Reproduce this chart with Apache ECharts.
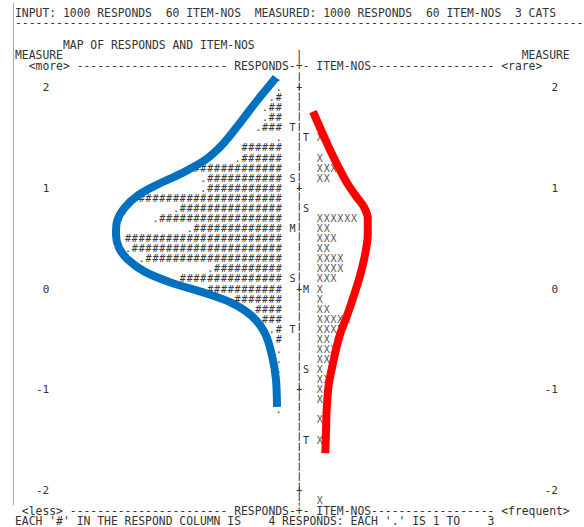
<!DOCTYPE html>
<html>
<head>
<meta charset="utf-8">
<script src="https://cdn.jsdelivr.net/npm/echarts@6/dist/echarts.min.js"></script>
<style>
  html, body { margin: 0; padding: 0; background: #fff; }
  #main { width: 584px; height: 527px; }
</style>
</head>
<body>
<div id="main"></div>
<script>
// rows of the RESPONDS column (measure of row, text of row)
var respondMeasure = [2.1, 2.0, 1.9, 1.8, 1.7, 1.6, 1.5, 1.4, 1.3, 1.2, 1.1, 1.0, 0.9, 0.8, 0.7, 0.6,
  0.5, 0.4, 0.3, 0.2, 0.1, 0.0, -0.1, -0.2, -0.3, -0.4, -0.5, -0.6, -0.7, -0.8, -1.2];
var respondText = ['.', '.', '.#', '.##', '.##', '.###', '.', '######', '.######', '#############',
  '.###########', '.###########', '#####################', '.###############', '.##################',
  '.#############', '#######################', '.######################', '.####################',
  '.##########', '###############', '###########', '#######', '####', '###', '.#', '#', '.', '.', '.', '.'];
var respondMarkMeasure = [1.6, 1.1, 0.6, 0.1, -0.4];
var respondMarkText = ['T', 'S', 'M', 'S', 'T'];

// rows of the ITEM-NOS column
var itemMeasure = [1.5, 1.3, 1.2, 1.1, 0.7, 0.6, 0.5, 0.4, 0.3, 0.2, 0.1, 0.0, -0.1, -0.2, -0.3,
  -0.4, -0.5, -0.6, -0.7, -0.8, -0.9, -1.0, -1.1, -1.3, -1.5, -2.1];
var itemText = ['X', 'X', 'XXX', 'XX', 'XXXXXX', 'XX', 'XXX', 'XX', 'XXXX', 'XXXX', 'XXX', 'X', 'X',
  'XX', 'XXXXX', 'XXXX', 'XX', 'XXX', 'XXX', 'X', 'XX', 'X', 'X', 'X', 'X', 'X'];
var itemMarkMeasure = [1.5, 0.8, 0.0, -0.8, -1.5];
var itemMarkText = ['T', 'S', 'M', 'S', 'T'];

var measureTicks = [2, 1, 0, -1, -2];
var plusText = ['+', '+', '+', '+', '+'];

// hand drawn curves, [text column, measure]
var respondCurve = [[38.1, 2.10], [36.06, 1.93], [34.31, 1.78], [32.41, 1.61], [30.22, 1.43],
  [27.74, 1.28], [24.38, 1.15], [20.88, 1.04], [17.96, 0.93], [15.91, 0.80], [14.89, 0.67],
  [14.74, 0.54], [15.18, 0.41], [16.5, 0.29], [18.98, 0.17], [22.92, 0.06], [27.74, -0.04],
  [31.68, -0.14], [34.6, -0.27], [36.5, -0.44], [37.52, -0.66], [38.1, -0.90], [38.25, -1.17]];
var itemCurve = [[43.5, 1.76], [44.8, 1.56], [46.0, 1.38], [47.3, 1.20], [48.5, 1.05], [49.8, 0.92],
  [50.9, 0.82], [51.5, 0.70], [51.5, 0.54], [51.1, 0.34], [50.4, 0.14], [49.5, -0.06], [48.5, -0.26],
  [47.4, -0.46], [46.6, -0.68], [45.8, -0.95], [45.5, -1.20], [45.4, -1.42], [45.3, -1.63]];

var MONO = '"DejaVu Sans Mono", monospace';
var FONT = '11.38px ' + MONO;   // header lines
var CELL_FONT = '10px ' + MONO; // map cells
var INK = '#333';
var CW = 6.85; // width of one character column

// one row string per data item, each character put in its own column cell
function textSeries(name, col, measures, texts, align, color) {
  return {
    name: name,
    type: 'custom',
    z: 3,
    silent: true,
    data: measures.map(function (m) { return [col, m]; }),
    renderItem: function (params, api) {
      var p = api.coord([api.value(0), api.value(1)]);
      var str = texts[params.dataIndex];
      var start = p[0];
      if (align === 'right') start = p[0] - str.length * CW;
      if (align === 'center') start = p[0] - str.length * CW / 2;
      var children = [];
      for (var i = 0; i < str.length; i++) {
        if (str[i] === ' ') continue;
        children.push({
          type: 'text',
          x: start + (i + 0.5) * CW,
          y: p[1],
          style: {
            text: str[i], font: CELL_FONT, fill: color || INK,
            align: 'center', verticalAlign: 'middle', lineHeight: 10
          }
        });
      }
      return { type: 'group', children: children };
    }
  };
}

function headerText(str, y) {
  return {
    type: 'text', x: 15, y: y, silent: true,
    style: { text: str, font: FONT, fill: INK, verticalAlign: 'middle', lineHeight: 9 }
  };
}

var line1 = 'INPUT: 1000 RESPONDS  60 ITEM-NOS  MEASURED: 1000 RESPONDS  60 ITEM-NOS  3 CATS';
var line2 = new Array(84).join('-');
var line3 = '       MAP OF RESPONDS AND ITEM-NOS';
var line4 = 'MEASURE' + new Array(35).join(' ') + '|' + new Array(33).join(' ') + 'MEASURE';
var line5 = '  <more> ' + new Array(23).join('-') + ' RESPONDS-+- ITEM-NOS' + new Array(19).join('-') + ' <rare>';
var foot1 = ' <less> ' + new Array(24).join('-') + ' RESPONDS-+- ITEM-NOS' + new Array(19).join('-') + ' <frequent>';
var foot2 = "EACH '#' IN THE RESPOND COLUMN IS    4 RESPONDS: EACH '.' IS 1 TO    3";

var chart = echarts.init(document.getElementById('main'), null, { renderer: 'svg' });

var option = {
  animation: false,
  backgroundColor: '#fff',
  grid: { left: 15, right: 584 - 15 - 80 * CW, top: 67.4, bottom: 16.4 },
  xAxis: { type: 'value', min: 0, max: 80, show: false },
  yAxis: [{
    type: 'value', min: -2.2, max: 2.2, position: 'left', offset: -34.25,
    axisLine: { show: false }, axisTick: { show: false }, splitLine: { show: false },
    axisLabel: { customValues: measureTicks, margin: 0, color: INK, fontFamily: MONO, fontSize: 11 }
  }, {
    type: 'value', min: -2.2, max: 2.2, position: 'right', offset: -5,
    axisLine: { show: false }, axisTick: { show: false }, splitLine: { show: false },
    axisLabel: { customValues: measureTicks, margin: 0, align: 'right', color: INK, fontFamily: MONO, fontSize: 11 }
  }],
  graphic: [
    { type: 'line', silent: true, shape: { x1: 13.5, y1: 3, x2: 13.5, y2: 505 }, style: { stroke: '#aaa', lineWidth: 1 } },
    headerText(line1, 13),
    headerText(line2, 22.5),
    headerText(line3, 45),
    headerText(line4, 55),
    headerText(line5, 66),
    headerText(foot1, 510.5),
    headerText(foot2, 521)
  ],
  series: [
    {
      name: 'axis', type: 'line', silent: true, symbol: 'none', z: 2,
      data: [[41.5, 2.15], [41.5, -2.15]],
      lineStyle: { color: INK, width: 1, type: [8.5, 1.5] }
    },
    textSeries('plus', 41.5, measureTicks, plusText, 'center'),
    textSeries('responds', 39, respondMeasure, respondText, 'right', '#3a3a3a'),
    textSeries('respondMarks', 40.5, respondMarkMeasure, respondMarkText, 'center'),
    textSeries('items', 44, itemMeasure, itemText, 'left', '#555'),
    textSeries('itemMarks', 42.5, itemMarkMeasure, itemMarkText, 'center'),
    {
      name: 'respondCurve', type: 'line', silent: true, symbol: 'none', smooth: 0.3, z: 5,
      data: respondCurve,
      lineStyle: { color: '#0070c0', width: 8, cap: 'butt' }
    },
    {
      name: 'itemCurve', type: 'line', silent: true, symbol: 'none', smooth: 0.3, z: 5,
      data: itemCurve,
      lineStyle: { color: '#ff0000', width: 8, cap: 'butt' }
    }
  ]
};

chart.setOption(option);
</script>
</body>
</html>
